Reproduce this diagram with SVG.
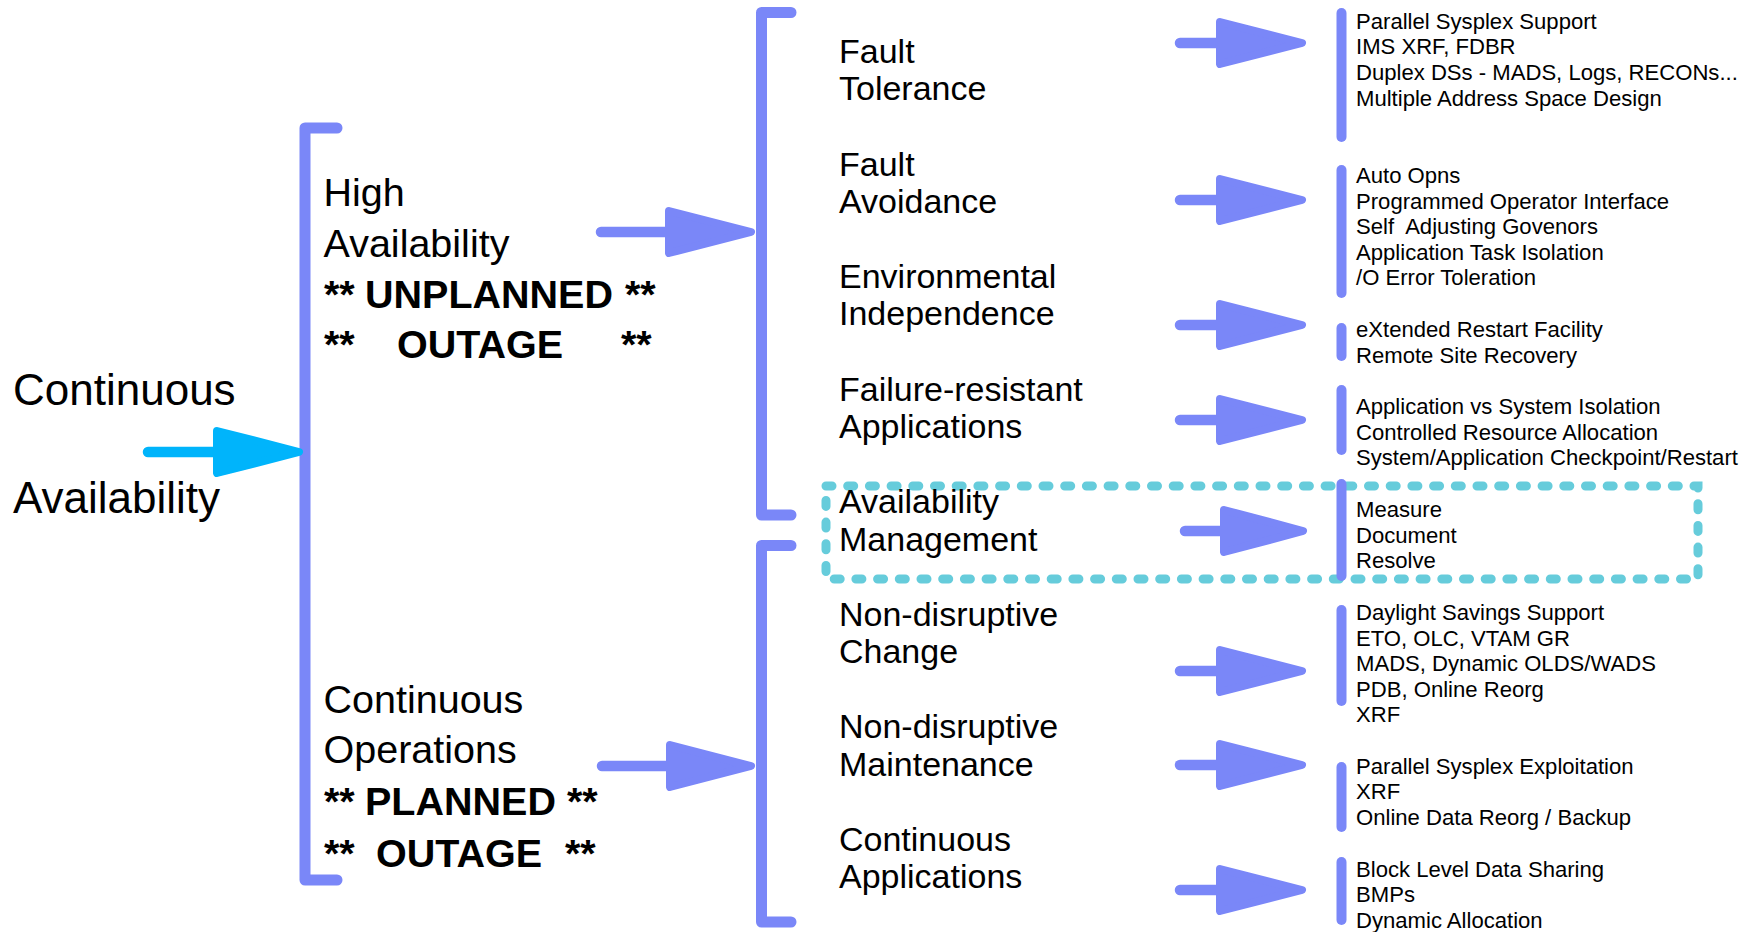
<svg xmlns="http://www.w3.org/2000/svg" width="1753" height="932" viewBox="0 0 1753 932">
  <style>
    text { font-family: "Liberation Sans", Arial, sans-serif; fill: #000; }
    .root { font-size: 44px; }
    .lvl1 { font-size: 39.5px; }
    .lvl1b { font-size: 39.5px; font-weight: bold; }
    .lvl2 { font-size: 34px; }
    .lvl3 { font-size: 22.1px; }
    .pre { white-space: pre; }
    .bracket { fill: none; stroke: #7a87f8; stroke-width: 11; stroke-linecap: round; stroke-linejoin: round; }
    .bar { fill: none; stroke: #7a87f8; stroke-width: 10; stroke-linecap: round; }
    .shaft { fill: none; stroke-width: 10.5; stroke-linecap: round; }
    .head { stroke-width: 8; stroke-linejoin: round; }
    .blue .shaft { stroke: #7a87f8; }
    .blue .head { fill: #7a87f8; stroke: #7a87f8; }
    .cyan .shaft { stroke: #00b4fb; }
    .cyan .head { fill: #00b4fb; stroke: #00b4fb; }
    .focus { fill: none; stroke: #66ccdb; stroke-width: 9; stroke-linecap: round; stroke-dasharray: 6 15.7; }
  </style>

  <!-- highlight frame around the management row -->
  <g id="focus-frame">
    <rect class="focus" x="826" y="486" width="872" height="93"/>
  </g>

  <!-- root -->
  <g id="node-continuous-availability">
    <text class="root" x="13" y="405">Continuous</text>
    <text class="root" x="13" y="513">Availability</text>
  </g>

  <!-- first level -->
  <g id="node-high-availability">
    <text class="lvl1" x="323.5" y="206">High</text>
    <text class="lvl1" x="323.5" y="257">Availability</text>
    <text class="lvl1b" y="308"><tspan x="324">**</tspan><tspan x="365">UNPLANNED</tspan><tspan x="625">**</tspan></text>
    <text class="lvl1b" y="358"><tspan x="324">**</tspan><tspan x="397">OUTAGE</tspan><tspan x="621">**</tspan></text>
  </g>
  <g id="node-continuous-operations">
    <text class="lvl1" x="323.5" y="713">Continuous</text>
    <text class="lvl1" x="323.5" y="763">Operations</text>
    <text class="lvl1b" y="815"><tspan x="324">**</tspan><tspan x="365">PLANNED</tspan><tspan x="567">**</tspan></text>
    <text class="lvl1b" y="867"><tspan x="324">**</tspan><tspan x="376">OUTAGE</tspan><tspan x="565">**</tspan></text>
  </g>

  <!-- second level -->
  <g id="node-fault-tolerance">
    <text class="lvl2" x="839" y="63">Fault</text>
    <text class="lvl2" x="839" y="100">Tolerance</text>
  </g>
  <g id="node-fault-avoidance">
    <text class="lvl2" x="839" y="176">Fault</text>
    <text class="lvl2" x="839" y="213">Avoidance</text>
  </g>
  <g id="node-environmental-independence">
    <text class="lvl2" x="839" y="288">Environmental</text>
    <text class="lvl2" x="839" y="325">Independence</text>
  </g>
  <g id="node-failure-resistant-applications">
    <text class="lvl2" x="839" y="401">Failure-resistant</text>
    <text class="lvl2" x="839" y="438">Applications</text>
  </g>
  <g id="node-availability-management">
    <text class="lvl2" x="839" y="513">Availability</text>
    <text class="lvl2" x="839" y="551">Management</text>
  </g>
  <g id="node-non-disruptive-change">
    <text class="lvl2" x="839" y="626">Non-disruptive</text>
    <text class="lvl2" x="839" y="663">Change</text>
  </g>
  <g id="node-non-disruptive-maintenance">
    <text class="lvl2" x="839" y="738">Non-disruptive</text>
    <text class="lvl2" x="839" y="776">Maintenance</text>
  </g>
  <g id="node-continuous-applications">
    <text class="lvl2" x="839" y="851">Continuous</text>
    <text class="lvl2" x="839" y="888">Applications</text>
  </g>

  <!-- third level: item lists -->
  <g id="list-fault-tolerance">
    <text class="lvl3" x="1356" y="29">Parallel Sysplex Support</text>
    <text class="lvl3" x="1356" y="54">IMS XRF, FDBR</text>
    <text class="lvl3" x="1356" y="79.5">Duplex DSs - MADS, Logs, RECONs...</text>
    <text class="lvl3" x="1356" y="105.5">Multiple Address Space Design</text>
  </g>
  <g id="list-fault-avoidance">
    <text class="lvl3" x="1356" y="183">Auto Opns</text>
    <text class="lvl3" x="1356" y="208.5">Programmed Operator Interface</text>
    <text class="lvl3 pre" x="1356" y="233.5">Self  Adjusting Govenors</text>
    <text class="lvl3" x="1356" y="259.5">Application Task Isolation</text>
    <text class="lvl3" x="1356" y="285">/O Error Toleration</text>
  </g>
  <g id="list-environmental-independence">
    <text class="lvl3" x="1356" y="337">eXtended Restart Facility</text>
    <text class="lvl3" x="1356" y="362.5">Remote Site Recovery</text>
  </g>
  <g id="list-failure-resistant-applications">
    <text class="lvl3" x="1356" y="413.5">Application vs System Isolation</text>
    <text class="lvl3" x="1356" y="439.5">Controlled Resource Allocation</text>
    <text class="lvl3" x="1356" y="465">System/Application Checkpoint/Restart</text>
  </g>
  <g id="list-availability-management">
    <text class="lvl3" x="1356" y="516.5">Measure</text>
    <text class="lvl3" x="1356" y="542.5">Document</text>
    <text class="lvl3" x="1356" y="568">Resolve</text>
  </g>
  <g id="list-non-disruptive-change">
    <text class="lvl3" x="1356" y="620">Daylight Savings Support</text>
    <text class="lvl3" x="1356" y="645.5">ETO, OLC, VTAM GR</text>
    <text class="lvl3" x="1356" y="671">MADS, Dynamic OLDS/WADS</text>
    <text class="lvl3" x="1356" y="696.5">PDB, Online Reorg</text>
    <text class="lvl3" x="1356" y="722">XRF</text>
  </g>
  <g id="list-non-disruptive-maintenance">
    <text class="lvl3" x="1356" y="773.5">Parallel Sysplex Exploitation</text>
    <text class="lvl3" x="1356" y="799">XRF</text>
    <text class="lvl3" x="1356" y="825">Online Data Reorg / Backup</text>
  </g>
  <g id="list-continuous-applications">
    <text class="lvl3" x="1356" y="877">Block Level Data Sharing</text>
    <text class="lvl3" x="1356" y="902">BMPs</text>
    <text class="lvl3" x="1356" y="927.5">Dynamic Allocation</text>
  </g>

  <!-- connectors: brackets, list bars and arrows -->
  <g id="connectors">
    <path class="bracket" d="M337,128 H305 V880 H337"/>
    <path class="bracket" d="M791,12.5 H761.5 V515 H791"/>
    <path class="bracket" d="M791,545.5 H761.5 V922 H791"/>

    <path class="bar" d="M1341.5,13 V137"/>
    <path class="bar" d="M1341.5,170 V293"/>
    <path class="bar" d="M1341.5,328 V356"/>
    <path class="bar" d="M1341.5,390 V450"/>
    <path class="bar" d="M1341.5,484 V576"/>
    <path class="bar" d="M1341.5,610 V701"/>
    <path class="bar" d="M1341.5,767 V827"/>
    <path class="bar" d="M1341.5,862 V920"/>

    <g class="cyan">
      <path class="shaft" d="M148,452 H220"/>
      <polygon class="head" points="217,431 299,452 217,473"/>
    </g>

    <g class="blue">
      <path class="shaft" d="M601,232 H672"/>
      <polygon class="head" points="669,211 751,232 669,253"/>
      <path class="shaft" d="M602,766 H673"/>
      <polygon class="head" points="670,745 751,766 670,787"/>

      <path class="shaft" d="M1180,43 H1222"/>
      <polygon class="head" points="1220,22 1302,43 1220,64"/>
      <path class="shaft" d="M1180,200 H1222"/>
      <polygon class="head" points="1220,179 1302,200 1220,221"/>
      <path class="shaft" d="M1180,325 H1222"/>
      <polygon class="head" points="1220,304 1302,325 1220,346"/>
      <path class="shaft" d="M1180,420 H1222"/>
      <polygon class="head" points="1220,399 1302,420 1220,441"/>
      <path class="shaft" d="M1185,531 H1226"/>
      <polygon class="head" points="1224,510 1303,531 1224,552"/>
      <path class="shaft" d="M1180,671 H1222"/>
      <polygon class="head" points="1220,650 1302,671 1220,692"/>
      <path class="shaft" d="M1180,765 H1222"/>
      <polygon class="head" points="1220,744 1302,765 1220,786"/>
      <path class="shaft" d="M1180,890 H1222"/>
      <polygon class="head" points="1220,869 1302,890 1220,911"/>
    </g>
  </g>
</svg>
